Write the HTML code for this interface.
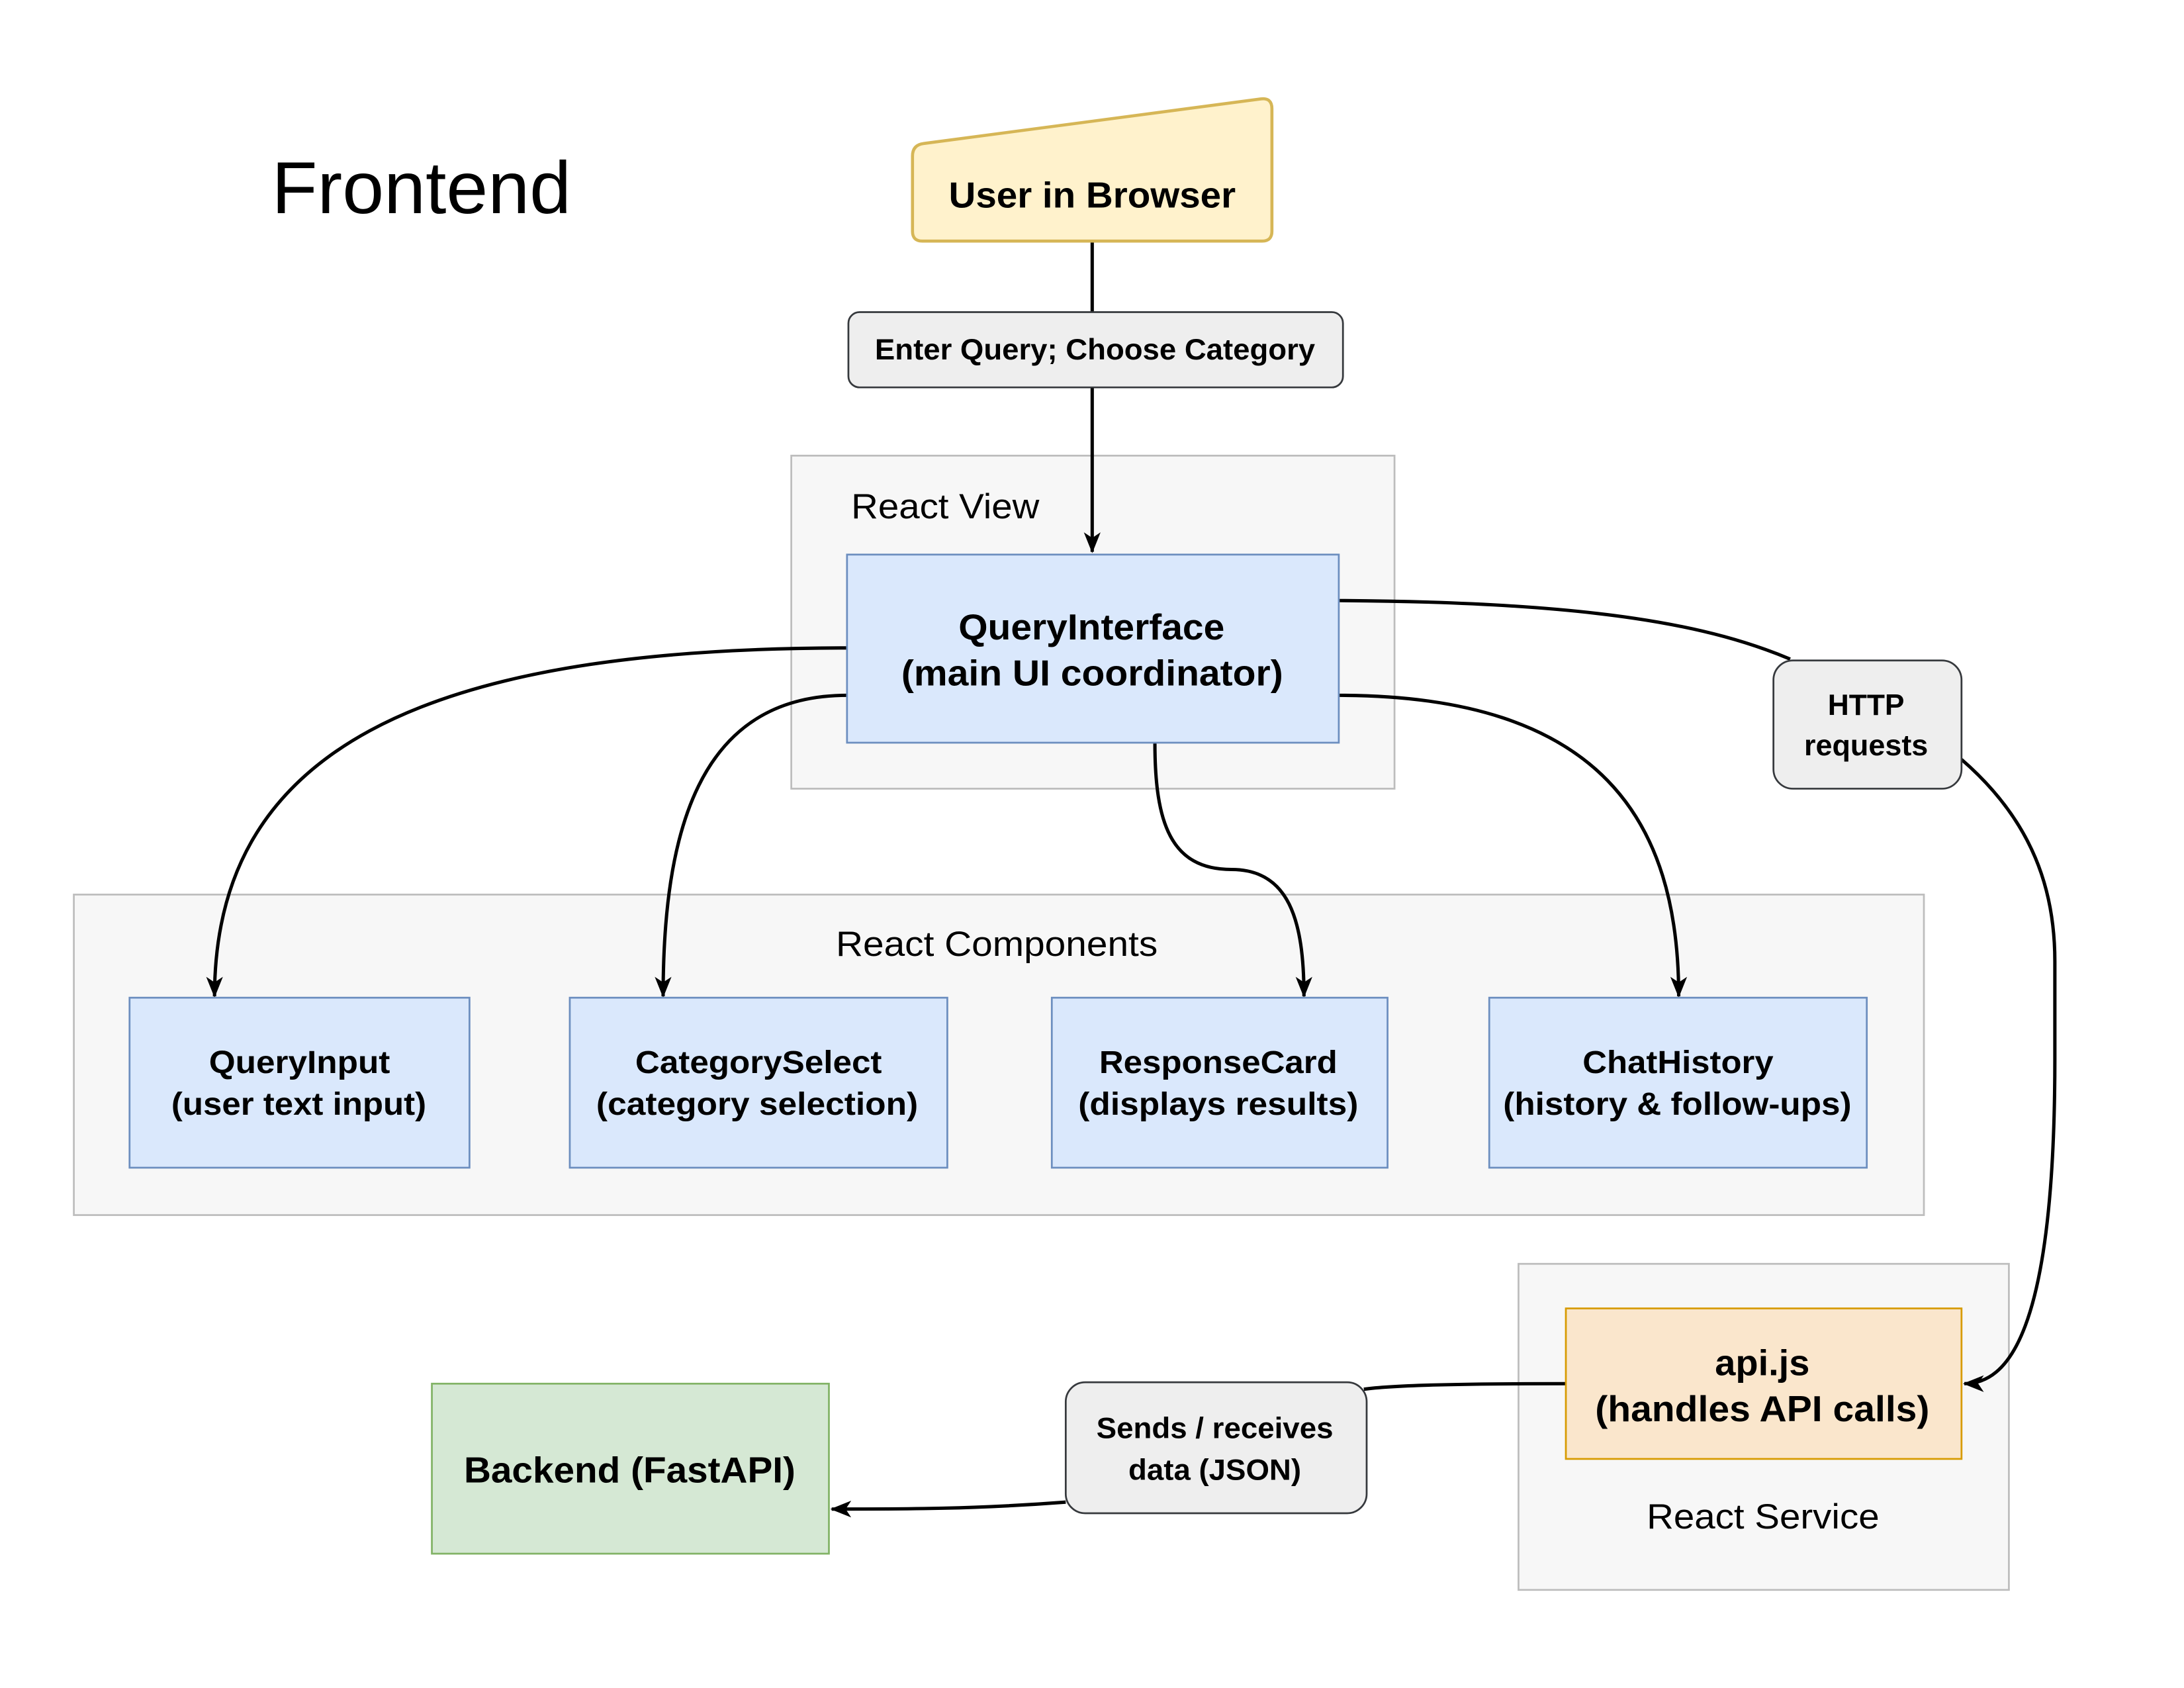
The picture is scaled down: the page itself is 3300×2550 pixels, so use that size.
<!DOCTYPE html>
<html><head><meta charset="utf-8"><style>
html,body{margin:0;padding:0;background:#fff;}
svg{display:block;}
text{font-family:"Liberation Sans",Arial,sans-serif;}
</style></head><body>
<svg width="3300" height="2550" viewBox="0 0 1567.7 1211.4" preserveAspectRatio="none" xmlns="http://www.w3.org/2000/svg">
<defs>
<marker id="a" markerUnits="userSpaceOnUse" markerWidth="16" markerHeight="16" viewBox="0 0 16 16" refX="14" refY="8" orient="auto">
<path d="M0,2 L15,8 L0,14 L4,8 Z" fill="#000"/>
</marker>
</defs>
<rect width="1567.7" height="1211.4" fill="#fff"/>
<text x="195" y="153" font-size="53" textLength="215" lengthAdjust="spacingAndGlyphs">Frontend</text>

<!-- containers -->
<rect x="568" y="327" width="433" height="239" fill="#f7f7f7" stroke="#bdbdbd" stroke-width="1.3"/>
<text x="611" y="372" font-size="25" textLength="135" lengthAdjust="spacingAndGlyphs">React View</text>
<rect x="53" y="642" width="1328" height="230" fill="#f7f7f7" stroke="#bdbdbd" stroke-width="1.3"/>
<text x="600" y="686" font-size="25" textLength="231" lengthAdjust="spacingAndGlyphs">React Components</text>
<rect x="1090" y="907" width="352" height="234" fill="#f7f7f7" stroke="#bdbdbd" stroke-width="1.3"/>
<text x="1182" y="1097" font-size="25" textLength="167" lengthAdjust="spacingAndGlyphs">React Service</text>

<!-- connectors -->
<g fill="none" stroke="#000" stroke-width="2.4">
<path d="M784,173 L784,225"/>
<path d="M784,278 L784,396" marker-end="url(#a)"/>
<path d="M608,465 C300,465 154,540 154,715" marker-end="url(#a)"/>
<path d="M608,499 C500,499 476,600 476,715" marker-end="url(#a)"/>
<path d="M829,533 C829,590 840,624 884,624 C925,624 936,660 936,715" marker-end="url(#a)"/>
<path d="M961,499 C1150,499 1205,590 1205,715" marker-end="url(#a)"/>
<path d="M961,431 C1150,432 1230,450 1285,473"/>
<path d="M1408,545 C1460,590 1475,640 1475,690 L1475,760 C1475,960 1440,993 1410,993" marker-end="url(#a)"/>
<path d="M1124,993 C1050,993 1000,994 979,997"/>
<path d="M765,1078 C700,1083 650,1083 597,1083" marker-end="url(#a)"/>
</g>

<!-- user in browser -->
<path d="M663,103 L905,71 Q913,70 913,78 L913,166 Q913,173 906,173 L662,173 Q655,173 655,166 L655,112 Q655,104 663,103 Z" fill="#fff2cc" stroke="#d6b656" stroke-width="2.2"/>
<text x="681" y="149" font-size="26" font-weight="bold" textLength="206" lengthAdjust="spacingAndGlyphs">User in Browser</text>

<!-- labels -->
<rect x="609" y="224" width="355" height="54" rx="8" fill="#eeeeee" stroke="#36393d" stroke-width="1.3"/>
<text x="628" y="258" font-size="21" font-weight="bold" textLength="316" lengthAdjust="spacingAndGlyphs">Enter Query; Choose Category</text>
<rect x="1273" y="474" width="135" height="92" rx="14" fill="#eeeeee" stroke="#36393d" stroke-width="1.3"/>
<text x="1312" y="513" font-size="21" font-weight="bold" textLength="55" lengthAdjust="spacingAndGlyphs">HTTP</text>
<text x="1295" y="542" font-size="21" font-weight="bold" textLength="89" lengthAdjust="spacingAndGlyphs">requests</text>
<rect x="765" y="992" width="216" height="94" rx="14" fill="#eeeeee" stroke="#36393d" stroke-width="1.3"/>
<text x="787" y="1032" font-size="21" font-weight="bold" textLength="170" lengthAdjust="spacingAndGlyphs">Sends / receives</text>
<text x="810" y="1062" font-size="21" font-weight="bold" textLength="124" lengthAdjust="spacingAndGlyphs">data (JSON)</text>

<!-- boxes -->
<rect x="608" y="398" width="353" height="135" fill="#dae8fc" stroke="#6c8ebf" stroke-width="1.3"/>
<text x="688" y="459" font-size="26" font-weight="bold" textLength="191" lengthAdjust="spacingAndGlyphs">QueryInterface</text>
<text x="647" y="492" font-size="26" font-weight="bold" textLength="274" lengthAdjust="spacingAndGlyphs">(main UI coordinator)</text>

<g font-size="23" font-weight="bold">
<rect x="93" y="716" width="244" height="122" fill="#dae8fc" stroke="#6c8ebf" stroke-width="1.3"/>
<text x="150" y="770" textLength="130" lengthAdjust="spacingAndGlyphs">QueryInput</text><text x="123" y="800" textLength="183" lengthAdjust="spacingAndGlyphs">(user text input)</text>
<rect x="409" y="716" width="271" height="122" fill="#dae8fc" stroke="#6c8ebf" stroke-width="1.3"/>
<text x="456" y="770" textLength="177" lengthAdjust="spacingAndGlyphs">CategorySelect</text><text x="428" y="800" textLength="231" lengthAdjust="spacingAndGlyphs">(category selection)</text>
<rect x="755" y="716" width="241" height="122" fill="#dae8fc" stroke="#6c8ebf" stroke-width="1.3"/>
<text x="789" y="770" textLength="171" lengthAdjust="spacingAndGlyphs">ResponseCard</text><text x="774" y="800" textLength="201" lengthAdjust="spacingAndGlyphs">(displays results)</text>
<rect x="1069" y="716" width="271" height="122" fill="#dae8fc" stroke="#6c8ebf" stroke-width="1.3"/>
<text x="1136" y="770" textLength="137" lengthAdjust="spacingAndGlyphs">ChatHistory</text><text x="1079" y="800" textLength="250" lengthAdjust="spacingAndGlyphs">(history &amp; follow-ups)</text>
</g>

<rect x="1124" y="939" width="284" height="108" fill="#fae6cc" stroke="#d79b00" stroke-width="1.3"/>
<text x="1231" y="987" font-size="26" font-weight="bold" textLength="68" lengthAdjust="spacingAndGlyphs">api.js</text>
<text x="1145" y="1020" font-size="26" font-weight="bold" textLength="240" lengthAdjust="spacingAndGlyphs">(handles API calls)</text>

<rect x="310" y="993" width="285" height="122" fill="#d5e8d4" stroke="#82b366" stroke-width="1.3"/>
<text x="333" y="1064" font-size="26" font-weight="bold" textLength="238" lengthAdjust="spacingAndGlyphs">Backend (FastAPI)</text>
</svg>
</body></html>
